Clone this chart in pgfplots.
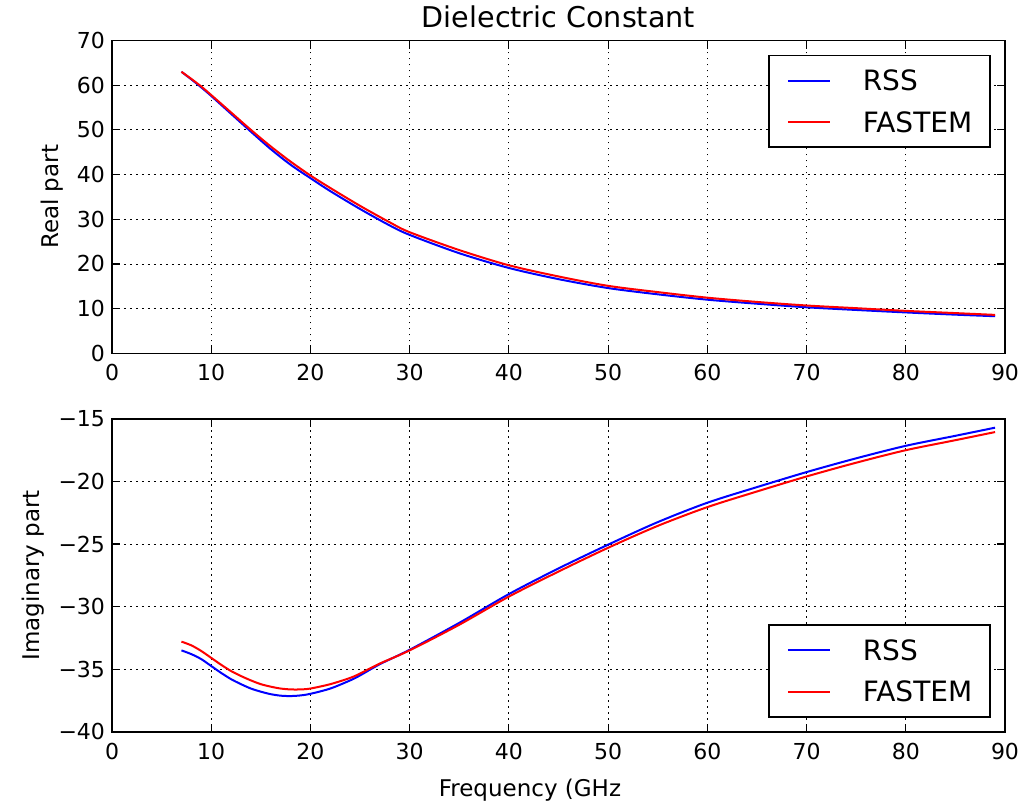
\documentclass[border=0pt]{standalone}
\usepackage{fontspec}
\setmainfont{DejaVu Sans}
\usepackage{pgfplots}
\pgfplotsset{compat=1.18}
\pgfplotsset{mpl/.style={
  scale only axis, width=446.5pt, height=156.4pt,
  xmin=0, xmax=90, xtick={0,10,...,90},
  axis line style={line width=0.8pt},
  grid=major, grid style={black, line width=0.4pt, dash pattern=on 0.8pt off 2.2pt},
  major tick length=4pt, tick style={black, line width=0.6pt},
  tick label style={font=\fontsize{11}{13}\selectfont},
  xticklabel style={yshift=-2pt},
  label style={font=\fontsize{11.5}{13}\selectfont},
  /pgf/number format/assume math mode=true,
  legend cell align=left,
  legend style={at={(1,1)}, anchor=north east, xshift=-7pt, yshift=-7pt,
    draw=black, line width=0.8pt, fill=white,
    font=\fontsize{14}{16}\selectfont,
    inner xsep=9pt, inner ysep=7.5pt, row sep=10.5pt,
    nodes={inner xsep=0pt, inner ysep=0pt, text height=10.2pt, text depth=0pt},
    /tikz/every odd column/.append style={column sep=16pt}},
  legend image code/.code={\draw[#1] (0pt,0pt) -- (21pt,0pt);},
}}
\pgfplotstableread{
x rss fastem
7 63.0 63.0
8 61.3 61.4
9 59.5 59.7
10 57.6 57.8
12 53.6 53.9
14 49.6 50.0
16 45.7 46.3
18 42.2 42.9
20 39.2 39.8
22 36.3 37.0
25 32.3 33.0
28 28.6 29.3
30 26.5 27.1
35 22.4 23.1
40 19.1 19.7
45 16.6 17.2
50 14.6 15.1
55 13.2 13.7
60 12.0 12.45
65 11.1 11.5
70 10.3 10.7
75 9.7 10.1
80 9.15 9.5
85 8.65 9.0
89 8.3 8.6
}\realtab
\pgfplotstableread{
x rss fastem
7 -33.5 -32.8
8 -33.8 -33.1
9 -34.2 -33.55
10 -34.75 -34.1
11 -35.3 -34.65
12 -35.8 -35.15
13 -36.2 -35.55
14 -36.55 -35.9
15 -36.8 -36.2
16 -37.0 -36.4
17 -37.12 -36.55
18 -37.15 -36.62
19 -37.1 -36.62
20 -36.97 -36.55
22 -36.55 -36.2
24 -35.9 -35.7
25 -35.5 -35.35
27 -34.6 -34.55
30 -33.45 -33.5
35 -31.3 -31.45
40 -29.0 -29.2
45 -26.95 -27.2
50 -25.05 -25.3
55 -23.25 -23.55
60 -21.7 -22.05
65 -20.45 -20.8
70 -19.25 -19.6
75 -18.15 -18.5
80 -17.15 -17.5
85 -16.35 -16.7
89 -15.7 -16.05
}\imagtab
\begin{document}
\begin{tikzpicture}
\path[use as bounding box] (0pt,0pt) rectangle (515pt,-400pt);
\begin{axis}[mpl, at={(56pt,-176.65pt)}, anchor=south west,
  ymin=0, ymax=70, ytick={0,10,...,70},
  title={Dielectric Constant}, title style={font=\fontsize{14.3}{16}\selectfont, yshift=-3pt},
  ylabel={Real part}]
\addplot[blue, line width=1pt, smooth] table[x=x, y=rss] {\realtab};
\addlegendentry{RSS}
\addplot[red, line width=1pt, smooth] table[x=x, y=fastem] {\realtab};
\addlegendentry{FASTEM}
\end{axis}
\begin{axis}[mpl, at={(56pt,-365.85pt)}, anchor=south west,
  ymin=-40, ymax=-15, ytick={-40,-35,...,-15},
  yticklabels={−40,−35,−30,−25,−20,−15},
  legend style={at={(1,0)}, anchor=south east, yshift=14pt},
  xlabel={Frequency (GHz}, xlabel style={at={(ticklabel cs:0.468)}, yshift=-3pt},
  ylabel={Imaginary part}]
\addplot[blue, line width=1pt, smooth] table[x=x, y=rss] {\imagtab};
\addlegendentry{RSS}
\addplot[red, line width=1pt, smooth] table[x=x, y=fastem] {\imagtab};
\addlegendentry{FASTEM}
\end{axis}
\end{tikzpicture}
\end{document}
